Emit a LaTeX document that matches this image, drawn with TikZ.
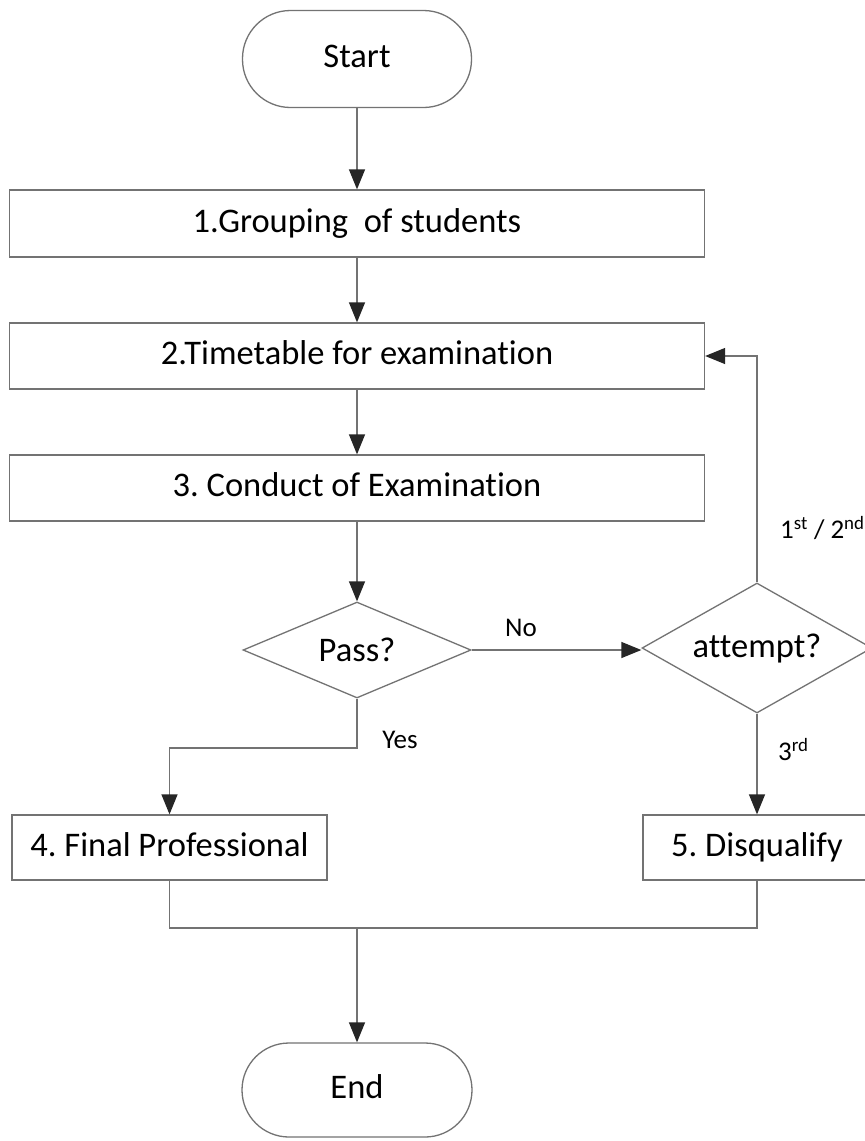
\documentclass[tikz,border=0pt]{standalone}
\usepackage{fontspec}
\setmainfont[Ligatures=NoCommon]{Carlito}
\usetikzlibrary{shapes.geometric,arrows.meta}
\begin{document}
\frenchspacing
\begin{tikzpicture}[x=1pt,y=-1pt,
  line/.style={draw=black!55, line width=1.3pt},
  arr/.style={line, -{Triangle[length=20pt,width=16pt,color=black!85]}},
  txt/.style={font=\fontsize{34.5}{40}\selectfont, text height=24pt, text depth=7pt},
  term/.style={line, txt, rectangle, rounded corners=48pt, fill=white, minimum width=229pt, minimum height=97pt, inner sep=0pt},
  proc/.style={line, txt, rectangle, fill=white, inner sep=0pt},
  dec/.style={line, font=\fontsize{34.5}{40}\selectfont, diamond, fill=white, inner sep=0pt},
  lbl/.style={inner sep=0pt, font=\fontsize{27}{32}\selectfont}]
\useasboundingbox (0,0) rectangle (865,1141);
\fill[white] (0,0) rectangle (865,1141);

\node[term] (start) at (357,59) {Start};
\node[proc, minimum width=695pt, minimum height=67pt] (b1) at (357,223.5) {1.Grouping\ \ of students};
\node[proc, minimum width=695pt, minimum height=66pt] (b2) at (357,356) {2.Timetable for examination};
\node[proc, minimum width=695pt, minimum height=66pt] (b3) at (357,488) {3. Conduct of Examination};
\node[dec, aspect=2.375, minimum width=228pt, minimum height=96pt] (pass) at (357,650) {Pass?};
\node[dec, aspect=1.77, minimum width=230pt, minimum height=130pt] (att) at (757,648) {attempt?};
\node[proc, minimum width=315pt, minimum height=65pt] (b4) at (169.5,847.5) {4. Final Professional};
\node[proc, minimum width=228pt, minimum height=65pt] (b5) at (757,847.5) {5. Disqualify};
\node[term, minimum width=230pt, minimum height=94pt, rounded corners=47pt] (end) at (357,1090) {End};

\coordinate (yesc) at (357,748);
\coordinate (joinL) at (169.5,928);
\coordinate (joinM) at (357,928);

\draw[arr] (start.south) -- (b1.north);
\draw[arr] (b1.south) -- (b2.north);
\draw[arr] (b2.south) -- (b3.north);
\draw[arr] (b3.south) -- (pass.north);
\draw[arr] (pass.east) -- (pass.east -| att.west);
\draw[arr] (pass.south) -- (yesc) -| (b4.north);
\draw[arr] (att.north) |- (b2.east);
\draw[arr] (att.south) -- (b5.north);
\draw[line] (b4.south) -- (joinL) -| (b5.south);
\draw[arr] (joinM) -- (end.north);

\node[lbl] (no) at (521,628) {No};
\node[lbl] (yes) at (400,740) {Yes};
\node[lbl, anchor=west] (third) at (778,750) {3\textsuperscript{rd}};
\node[lbl, anchor=west] (first) at (780,528) {1\textsuperscript{st} / 2\textsuperscript{nd}};
\end{tikzpicture}
\end{document}
